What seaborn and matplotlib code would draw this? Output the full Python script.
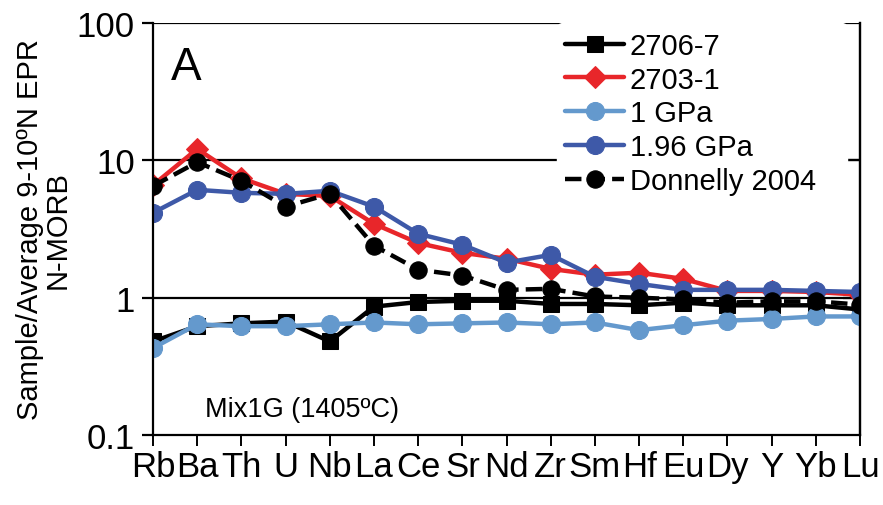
import matplotlib
matplotlib.use("Agg")
import matplotlib.pyplot as plt
import seaborn as sns
import pandas as pd
from matplotlib.ticker import FixedLocator, NullLocator, FixedFormatter

# Trace elements, ordered by incompatibility
elements = ["Rb", "Ba", "Th", "U", "Nb", "La", "Ce", "Sr", "Nd", "Zr",
            "Sm", "Hf", "Eu", "Dy", "Y", "Yb", "Lu"]

# Normalised concentrations (sample / average 9-10°N EPR N-MORB)
s2706_7 = [0.48, 0.62, 0.65, 0.67, 0.48, 0.86, 0.93, 0.95, 0.95, 0.90,
           0.90, 0.88, 0.92, 0.88, 0.88, 0.88, 0.82]
s2703_1 = [6.6, 12.1, 7.4, 5.7, 5.5, 3.45, 2.5, 2.12, 1.92, 1.62,
           1.47, 1.52, 1.37, 1.12, 1.12, 1.10, 1.05]
gpa_1 = [0.43, 0.64, 0.62, 0.62, 0.64, 0.66, 0.64, 0.65, 0.66, 0.64,
         0.66, 0.58, 0.63, 0.68, 0.70, 0.73, 0.73]
gpa_196 = [4.15, 6.1, 5.8, 5.7, 6.0, 4.6, 2.92, 2.43, 1.80, 2.05,
           1.42, 1.26, 1.14, 1.14, 1.14, 1.12, 1.10]
donnelly = [6.5, 9.7, 7.1, 4.6, 5.7, 2.39, 1.60, 1.45, 1.14, 1.16,
            1.02, 1.00, 0.97, 0.92, 0.94, 0.94, 0.89]

y_ticks = [0.1, 1, 10, 100]
y_tick_labels = ["0.1", "1", "10", "100"]

series = [
    ("2706-7", s2706_7, "#000000", "s", 11, "-"),
    ("2703-1", s2703_1, "#E8262A", "D", 11, "-"),
    ("1 GPa", gpa_1, "#6499CD", "o", 13, "-"),
    ("1.96 GPa", gpa_196, "#3E59A8", "o", 13, "-"),
    ("Donnelly 2004", donnelly, "#000000", "o", 12.5, "--"),
]

sns.set_style("white")
plt.rcParams["font.family"] = ["Liberation Sans", "DejaVu Sans"]
for key in ["text.color", "axes.labelcolor", "xtick.color", "ytick.color"]:
    plt.rcParams[key] = "black"

fig = plt.figure(figsize=(8.83, 5.06), dpi=100)
ax = fig.add_axes([0.1733, 0.1383, 0.8007, 0.8143])

for name, vals, color, marker, ms, ls in series:
    df = pd.DataFrame({"element": elements, "value": vals})
    kw = dict(dashes=(4.5, 2.2)) if ls == "--" else {}
    sns.lineplot(data=df, x="element", y="value", ax=ax, color=color,
                 marker=marker, markersize=ms, linewidth=3.2,
                 markeredgecolor=color, label=name, sort=False,
                 linestyle=ls, **kw)

ax.set_yscale("log")
ax.set_ylim(0.1, 100)
ax.set_xlim(0, len(elements) - 1)
ax.yaxis.set_major_locator(FixedLocator(y_ticks))
ax.yaxis.set_major_formatter(FixedFormatter(y_tick_labels))
ax.yaxis.set_minor_locator(NullLocator())

# horizontal reference lines at each decade
for v in [1, 10, 100]:
    ax.axhline(v, color="black", linewidth=1.6, zorder=0.5)

ax.spines["top"].set_visible(False)
for side in ["left", "bottom", "right"]:
    ax.spines[side].set_visible(True)
    ax.spines[side].set_color("black")
    ax.spines[side].set_linewidth(1.6)

ax.set_xticks(range(len(elements)))
ax.set_xticklabels(elements)
ax.tick_params(axis="x", direction="out", length=8, width=1.4,
               labelsize=25, pad=3, bottom=True)
ax.tick_params(axis="y", direction="out", length=8, width=1.6,
               labelsize=25, pad=5, left=True)

right = ax.secondary_yaxis("right")
right.set_yticks([1, 10])
right.tick_params(direction="in", length=12, width=1.6, labelright=False)
right.yaxis.set_minor_locator(NullLocator())
right.spines["right"].set_linewidth(1.6)

ax.set_xlabel("")
ax.set_ylabel("Sample/Average 9-10ºN EPR\nN-MORB", fontsize=21,
              linespacing=0.95, labelpad=4)

ax.text(0.025, 0.893, "A", transform=ax.transAxes, fontsize=33,
        ha="left", va="center")
ax.text(0.073, 0.063, "Mix1G (1405ºC)", transform=ax.transAxes, fontsize=19.5,
        ha="left", va="center")

leg = ax.legend(loc="upper left", bbox_to_anchor=(0.571, 0.0, 0.41, 1.0),
                mode="expand", frameon=True, fontsize=21, handlelength=2.0,
                handletextpad=0.2, labelspacing=0.2, borderpad=0.3,
                borderaxespad=0.0)
leg.get_frame().set_facecolor("white")
leg.get_frame().set_edgecolor("white")
leg.get_frame().set_alpha(1.0)
leg.set_zorder(5)

fig.savefig("out.png", dpi=100)
